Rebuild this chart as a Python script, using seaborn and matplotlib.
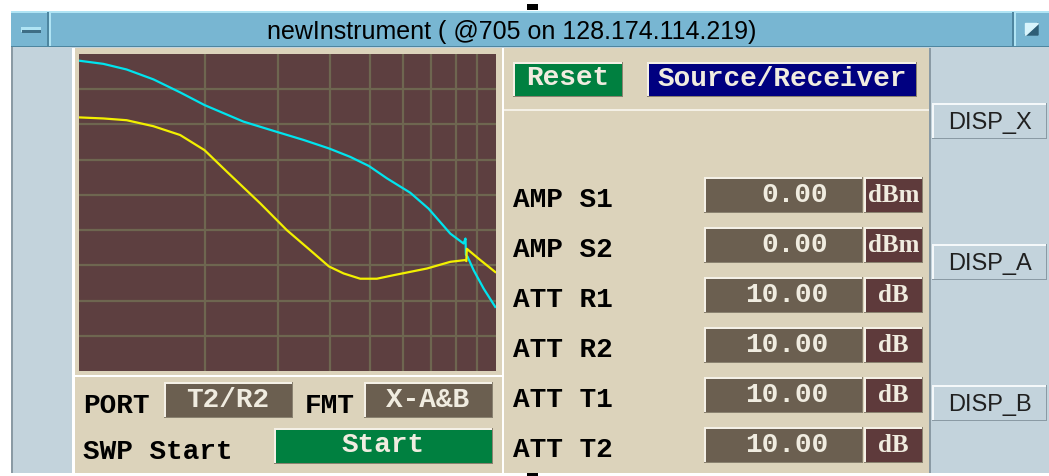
import numpy as np
import pandas as pd
import matplotlib
matplotlib.use('Agg')
import matplotlib.pyplot as plt
from matplotlib.patches import Rectangle
import seaborn as sns

#### data ####################################################################
# trace A (cyan), x on a one-decade log axis, y in dB (0 at top, -90 at bottom)
cyan_freq = [1.0, 1.144, 1.301, 1.508, 1.748, 2.0, 2.48, 2.98, 3.455, 3.974, 4.47,
             4.958, 5.476, 6.23, 6.89, 7.77, 8.36, 8.45, 8.47, 8.55, 8.84, 9.34, 9.96]
cyan_level = [-1.9, -2.8, -4.4, -7.2, -10.9, -14.5, -19.2, -22.1, -24.4, -26.8, -29.2,
              -31.8, -35.3, -39.4, -43.9, -51.0, -53.8, -52.4, -57.0, -57.6, -61.4, -66.6, -71.8]

# trace B (yellow)
yellow_freq = [1.0, 1.144, 1.301, 1.508, 1.748, 2.0, 2.262, 2.72, 3.15, 3.584, 3.974,
               4.31, 4.725, 5.18, 5.68, 6.83, 7.77, 8.44, 8.49, 8.51, 9.17, 9.96]
yellow_level = [-18.0, -18.3, -18.8, -20.5, -23.0, -27.3, -33.4, -42.4, -50.0, -55.7, -60.3,
                -62.3, -63.8, -63.8, -62.8, -60.9, -59.0, -58.5, -58.8, -55.3, -58.5, -61.9]

x_grid = [2, 3, 4, 5, 6, 7, 8, 9]
y_grid = [-10, -20, -30, -40, -50, -60, -70, -80]

param_labels = ['AMP S1', 'AMP S2', 'ATT R1', 'ATT R2', 'ATT T1', 'ATT T2']
param_values = ['0.00', '0.00', '10.00', '10.00', '10.00', '10.00']
param_units = ['dBm', 'dBm', 'dB', 'dB', 'dB', 'dB']
side_buttons = ['DISP_X', 'DISP_A', 'DISP_B']

title = 'newInstrument ( @705 on 128.174.114.219)'

#### colours #################################################################
WIN = '#c3d3dc'
TITLE = '#78b6d2'
TAN = '#dcd3bb'
SCOPE = '#5d3f40'
GRID = '#6e6650'
FIELD = '#6b5f50'
UNIT = '#5e3a3b'
GREEN = '#008040'
NAVY = '#000080'

MONO = dict(family='Liberation Mono', weight='bold')

W, H = 1049, 476
fig = plt.figure(figsize=(W / 100, H / 100), dpi=100, facecolor='white')
bg = fig.add_axes([0, 0, 1, 1])
bg.set_xlim(0, W)
bg.set_ylim(H, 0)
bg.axis('off')


def rect(x, y, w, h, color, z=1):
    bg.add_patch(Rectangle((x, y), w, h, facecolor=color, edgecolor='none', zorder=z))


def button(x, y, w, h, face, light='#f4f0e6', dark='#8a8270'):
    rect(x, y, w, h, face, 3)
    rect(x, y, w, 1.5, light, 4)
    rect(x, y, 1.5, h, light, 4)
    rect(x, y + h - 1.5, w, 1.5, dark, 4)
    rect(x + w - 1.5, y, 1.5, h, dark, 4)


# window frame
rect(11, 11, W - 11, 462, WIN)
rect(11, 11, 2, 462, '#8a9aa4', 2)

# title bar
rect(11, 11, W - 11, 36, TITLE, 2)
rect(11, 11, W - 11, 1.5, '#b0e4f4', 3)
rect(11, 45.5, W - 11, 1.5, '#4e86a0', 3)
rect(47, 12, 1.5, 34, '#4e86a0', 3)
rect(49, 12, 1.5, 34, '#b0e4f4', 3)
rect(1012, 12, 1.5, 34, '#4e86a0', 3)
rect(1014, 12, 1.5, 34, '#b0e4f4', 3)
rect(21, 27, 20, 5, '#b0e4f4', 3)
rect(22, 30, 19, 3, '#3e6e86', 3)
bg.add_patch(plt.Polygon([[1025, 35], [1038, 23], [1038, 35]], color='#2e5e76', zorder=3))
bg.add_patch(plt.Polygon([[1025, 35], [1025, 23], [1038, 23]], color='#d8f4fc', zorder=3))
bg.text(512, 39, title, ha='center', va='baseline', fontsize=18,
        family=['Liberation Sans Narrow', 'Liberation Sans'], color='black', zorder=5)
rect(527, 4, 11, 6, 'black', 5)
rect(527, 473, 11, 3, 'black', 5)

# panels
rect(72, 48, 3, 425, 'white', 2)
rect(75, 48, 427, 425, TAN, 2)
rect(75, 375, 427, 2, 'white', 3)
rect(502, 48, 1.5, 425, 'white', 3)
rect(503.5, 48, 425, 425, TAN, 2)
rect(503.5, 109, 425, 2, '#f4f0e6', 3)
rect(929, 48, 2, 425, '#8a9aa4', 3)

# bottom-left controls
bg.text(83, 413, 'PORT', ha='left', va='baseline', fontsize=20, color='black', **MONO)
bg.text(305, 413, 'FMT', ha='left', va='baseline', fontsize=20, color='black', **MONO)
bg.text(83, 459, 'SWP Start', ha='left', va='baseline', fontsize=20, color='black', **MONO)
button(164, 382, 129, 36, FIELD)
bg.text(228, 407, 'T2/R2', ha='center', va='baseline', fontsize=20, color='#f0ece0', zorder=5, **MONO)
button(364, 382, 129, 36, FIELD)
bg.text(428, 407, 'X-A&B', ha='center', va='baseline', fontsize=20, color='#f0ece0', zorder=5, **MONO)
button(274, 428, 219, 36, GREEN)
bg.text(383, 452, 'Start', ha='center', va='baseline', fontsize=20, color='#f0ece0', zorder=5, **MONO)

# right panel controls
button(513, 62, 110, 35, GREEN)
bg.text(568, 85, 'Reset', ha='center', va='baseline', fontsize=20, color='#f0ece0', zorder=5, **MONO)
button(647, 62, 270, 35, NAVY)
bg.text(782, 86, 'Source/Receiver', ha='center', va='baseline', fontsize=20, color='#f0ece0', zorder=5, **MONO)

for i, (lab, val, unit) in enumerate(zip(param_labels, param_values, param_units)):
    top = 177 + 50 * i
    bg.text(513, 207 + 50 * i, lab, ha='left', va='baseline', fontsize=20, color='black', **MONO)
    button(704, top, 159, 36, FIELD)
    bg.text(828, top + 25, val, ha='right', va='baseline', fontsize=20, color='#f0ece0', zorder=5, **MONO)
    button(864, top, 59, 36, UNIT)
    bg.text(893.5, top + 25, unit, ha='center', va='baseline', fontsize=18, weight='bold',
            family='Liberation Serif', color='#f0ece0', zorder=5)

for i, lab in enumerate(side_buttons):
    top = [103, 244, 385][i]
    button(932, top, 115, 36, WIN, light='#f4f8fa', dark='#8a9aa4')
    bg.text(990, top + 26, lab, ha='center', va='baseline', fontsize=17,
            family='Liberation Sans', color='#202020', zorder=5)

#### scope trace ##############################################################
df = pd.concat([
    pd.DataFrame({'freq': cyan_freq, 'level': cyan_level, 'trace': 'A'}),
    pd.DataFrame({'freq': yellow_freq, 'level': yellow_level, 'trace': 'B'}),
])

ax = fig.add_axes([79 / W, 1 - 371 / H, 417 / W, 317 / H])
ax.set_facecolor(SCOPE)
ax.set_xscale('log')
sns.lineplot(data=df, x='freq', y='level', hue='trace', palette={'A': '#00e4ee', 'B': '#f2f000'},
             estimator=None, sort=False, linewidth=1.6, legend=False, ax=ax, zorder=3)
ax.set_xlim(1, 10)
ax.set_ylim(-90, 0)
ax.set_xticks(x_grid)
ax.set_xticks([], minor=True)
ax.set_yticks(y_grid)
ax.grid(True, color=GRID, linewidth=1.6)
ax.set_axisbelow(True)
ax.tick_params(length=0, labelbottom=False, labelleft=False, which='both')
ax.set_xlabel('')
ax.set_ylabel('')
for s in ax.spines.values():
    s.set_visible(False)

fig.savefig('out.png', dpi=100, facecolor='white')
